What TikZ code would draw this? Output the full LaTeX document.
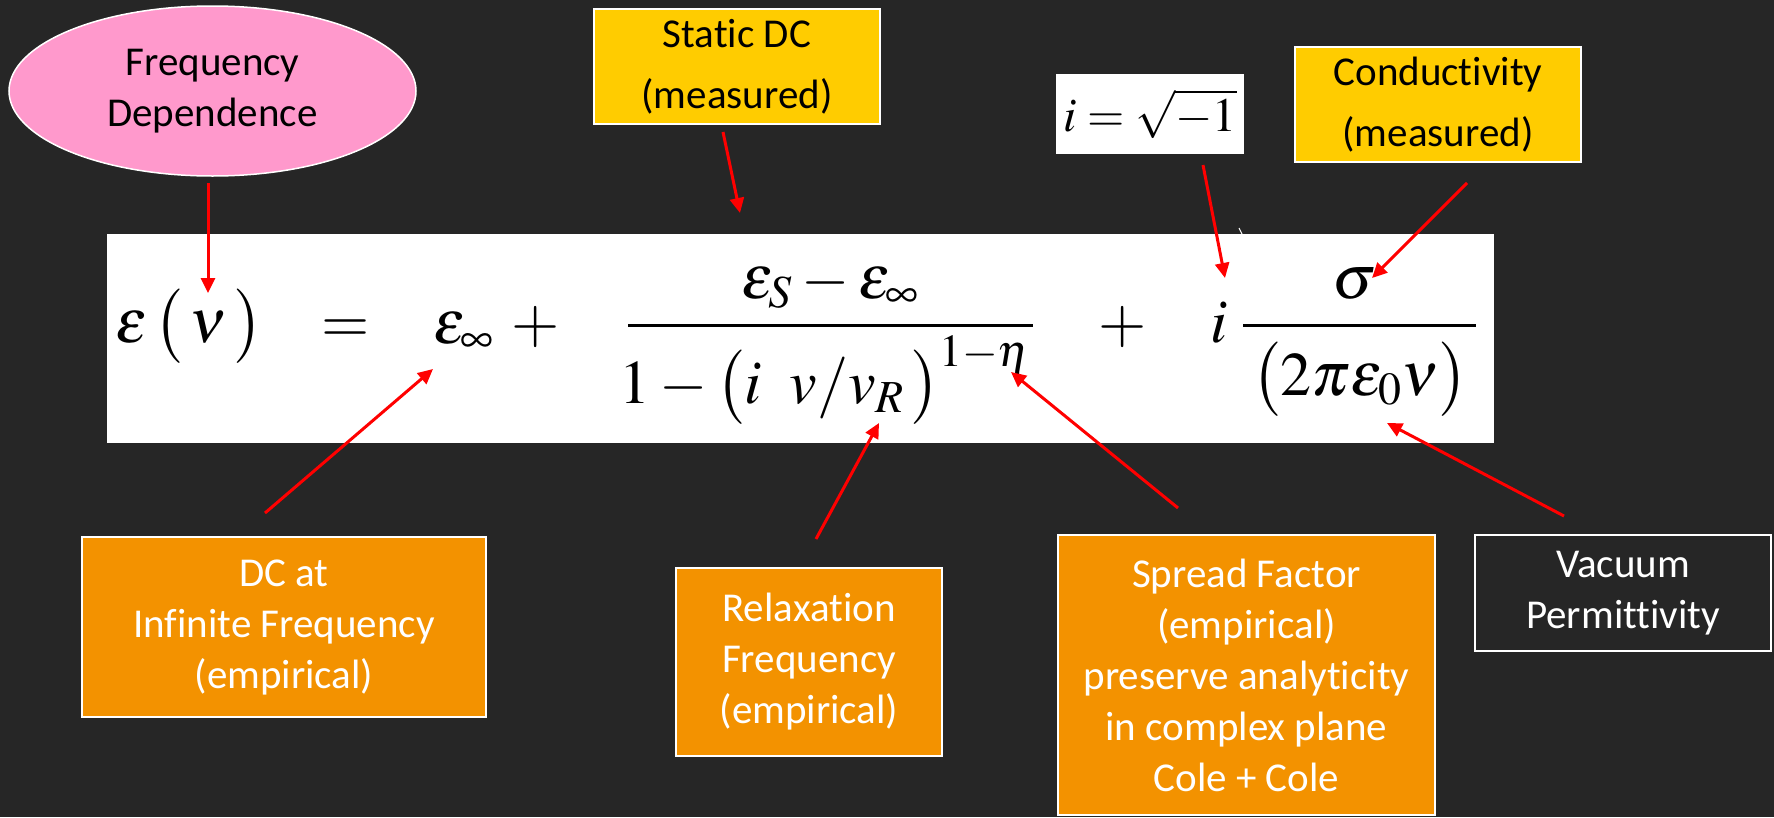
\documentclass[tikz,border=0pt]{standalone}
\usepackage{amsmath}
\usepackage{mathptmx}
\usepackage[no-math]{fontspec}
\setmainfont{Carlito}[Ligatures=NoCommon]
\usetikzlibrary{arrows.meta,shapes.geometric}
\definecolor{bgc}{HTML}{262626}
\definecolor{pinkc}{HTML}{FF99CC}
\definecolor{yelc}{HTML}{FFCC00}
\definecolor{orac}{HTML}{F39200}
\definecolor{redc}{HTML}{FF0000}
\newcommand{\mystrut}{\rule[-23pt]{0pt}{77pt}}
\begin{document}
\begin{tikzpicture}[x=1pt,y=-1pt,
  lbl/.style={inner sep=0pt,align=center,font=\fontsize{41}{51}\selectfont},
  orabox/.style={lbl,rectangle,fill=orac,draw=white,line width=1.5pt,text=white},
  yelbox/.style={lbl,rectangle,fill=yelc,draw=white,line width=1.5pt,text=black,font=\fontsize{41}{61}\selectfont},
  darkbox/.style={lbl,rectangle,fill=bgc,draw=white,line width=1.5pt,text=white},
  mth/.style={inner sep=0pt,font=\fontsize{62}{70}\selectfont},
  arr/.style={draw=redc,line width=3pt,-{Triangle[length=15pt,width=14pt]}},
  fbar/.style={line width=3pt,black}]
\fill[bgc] (0,0) rectangle (1774,817);
\useasboundingbox (0,0) rectangle (1774,817);

% top labels
\node[lbl,ellipse,fill=pinkc,draw=white,line width=1.5pt,minimum width=407pt,minimum height=170pt,text=black] (freq) at (212.5,91) {Frequency\\Dependence};
\node[yelbox,minimum width=286pt,minimum height=115pt] (static) at (737,66.5) {Static DC\\(measured)};
\node[yelbox,minimum width=286pt,minimum height=115pt] (cond) at (1438,104.5) {Conductivity\\(measured)};
\node[rectangle,fill=white,inner sep=0pt,minimum width=188pt,minimum height=80pt,font=\fontsize{48}{54}\selectfont] (ibox) at (1150,114) {$i=\sqrt{-1}$};

% equation box
\node[rectangle,fill=white,inner sep=0pt,minimum width=1387pt,minimum height=209pt] (eqbox) at (800.5,338.5) {};
\node[mth,anchor=base west] (lhs) at (115,342) {$\varepsilon\left(\mystrut\,\nu\,\right)$};
\node[mth,anchor=base] (eqs) at (346,342) {$=$};
\node[mth,anchor=base west] (einf) at (433,343) {$\varepsilon_\infty$};
\node[mth,anchor=base] (plusa) at (536,342) {$+$};
\node[mth,anchor=base] (numa) at (830,298) {$\varepsilon_S-\varepsilon_\infty$};
\node[mth,anchor=base] (dena) at (825,403) {$1-\left(\mystrut i\;\;v/v_R\,\right)^{1-\eta}$};
\coordinate (bara1) at (628,325);
\coordinate (bara2) at (1033,325);
\draw[fbar] (bara1) -- (bara2);
\node[mth,anchor=base] (plusb) at (1123,342) {$+$};
\node[mth,anchor=base west] (ii) at (1210,342) {$i$};
\node[mth,anchor=base] (numb) at (1355,298) {$\sigma$};
\node[mth,anchor=base] (denb) at (1360,395) {$\left(\mystrut 2\pi\varepsilon_0\nu\right)$};
\coordinate (barb1) at (1243,325);
\coordinate (barb2) at (1476,325);
\draw[fbar] (barb1) -- (barb2);

% small stray mark
\coordinate (m1) at (1239,228);
\coordinate (m2) at (1243,236);
\draw[white,line width=1pt] (m1) -- (m2);

% bottom labels
\node[orabox,minimum width=404pt,minimum height=180pt] (dcinf) at (284,627) {DC at\\Infinite Frequency\\(empirical)};
\node[orabox,minimum width=266pt,minimum height=188pt] (relax) at (809,662) {Relaxation\\Frequency\\(empirical)};
\node[orabox,minimum width=377pt,minimum height=280pt] (spread) at (1246.5,675) {Spread Factor\\(empirical)\\preserve analyticity\\in complex plane\\Cole + Cole};
\node[darkbox,minimum width=296pt,minimum height=116pt] (vac) at (1623,593) {Vacuum\\Permittivity};

% arrow end points
\coordinate (s1) at (208,183);   \coordinate (t1) at (208,293);
\coordinate (s2) at (723,132);   \coordinate (t2) at (740,213);
\coordinate (s3) at (1203,165);  \coordinate (t3) at (1225,278);
\coordinate (s4) at (1467,183);  \coordinate (t4) at (1372,278);
\coordinate (s5) at (265,513);   \coordinate (t5) at (433,369);
\coordinate (s6) at (816,539);   \coordinate (t6) at (879,423);
\coordinate (s7) at (1178,508);  \coordinate (t7) at (1011,372);
\coordinate (s8) at (1564,516);  \coordinate (t8) at (1387,423);
\draw[arr] (s1) -- (t1);
\draw[arr] (s2) -- (t2);
\draw[arr] (s3) -- (t3);
\draw[arr] (s4) -- (t4);
\draw[arr] (s5) -- (t5);
\draw[arr] (s6) -- (t6);
\draw[arr] (s7) -- (t7);
\draw[arr] (s8) -- (t8);
\end{tikzpicture}
\end{document}
